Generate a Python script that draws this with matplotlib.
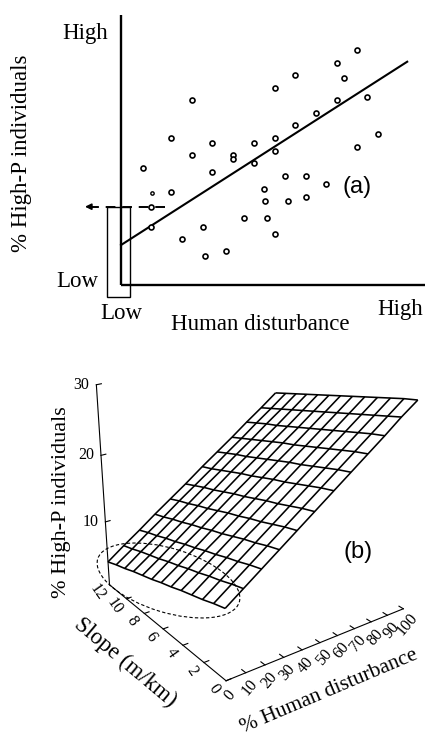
import numpy as np
import matplotlib
matplotlib.use("Agg")
import matplotlib.pyplot as plt
from matplotlib.patches import Rectangle, Ellipse
from mpl_toolkits.mplot3d import Axes3D  # noqa: F401

W, H, DPI = 427, 737, 100
SERIF = "Liberation Serif"
SANS = "Liberation Sans"
plt.rcParams["font.family"] = SERIF

# ---------------- panel (a) data ----------------
disturbance_a = [7.2, 10.4, 16.8, 10.0, 10.0, 16.8, 23.8, 23.7, 20.3, 27.2, 28.0,
                 30.4, 30.4, 34.9, 37.4, 37.4, 40.9, 44.3, 44.3, 47.7, 47.9, 48.6,
                 51.2, 51.3, 51.3, 51.4, 54.8, 55.7, 58.0, 58.0, 61.6, 61.6, 64.9,
                 68.4, 72.0, 72.0, 74.2, 78.7, 78.7, 82.1, 85.6]
highp_a = [43.2, 34.0, 34.3, 29.0, 21.6, 54.3, 68.5, 48.0, 16.9, 21.6, 10.6,
           52.7, 41.7, 12.7, 48.0, 46.7, 24.7, 52.7, 45.1, 35.4, 31.0, 24.7,
           72.9, 54.3, 49.7, 18.8, 40.4, 31.0, 77.7, 59.1, 40.4, 32.5, 63.6,
           37.3, 82.1, 68.5, 76.6, 86.9, 51.0, 69.5, 55.8]
small_points = [1]
fit_x = [0.0, 95.4]
fit_y = [14.8, 82.7]
low_box_x = [-4.7, 3.0]
low_box_y = [-4.4, 29.0]
arrow_x = [14.7, -12.0]
arrow_y = 29.0

# ---------------- panel (b) data ----------------
disturbance_levels = [0, 9, 18, 27, 36, 45, 55, 64, 73, 82, 91, 100]
slope_levels = [0, 1, 2, 3, 4, 5, 6, 7, 8, 9, 10, 11, 12]
highp_surface = [
    [10.2, 9.7, 9.1, 8.6, 8.1, 7.5, 7.0, 6.4, 5.9, 5.4, 4.8, 4.3, 3.7],
    [12.0, 11.5, 10.9, 10.4, 9.8, 9.3, 8.7, 8.2, 7.6, 7.1, 6.6, 6.0, 5.5],
    [13.8, 13.3, 12.7, 12.2, 11.6, 11.1, 10.5, 10.0, 9.4, 8.9, 8.3, 7.8, 7.2],
    [15.6, 15.1, 14.5, 14.0, 13.4, 12.8, 12.3, 11.7, 11.2, 10.6, 10.1, 9.5, 9.0],
    [17.4, 16.9, 16.3, 15.7, 15.2, 14.6, 14.1, 13.5, 12.9, 12.4, 11.8, 11.3, 10.7],
    [19.2, 18.7, 18.1, 17.5, 17.0, 16.4, 15.8, 15.3, 14.7, 14.1, 13.6, 13.0, 12.4],
    [21.2, 20.7, 20.1, 19.5, 18.9, 18.4, 17.8, 17.2, 16.7, 16.1, 15.5, 14.9, 14.4],
    [23.0, 22.5, 21.9, 21.3, 20.7, 20.2, 19.6, 19.0, 18.4, 17.8, 17.3, 16.7, 16.1],
    [24.8, 24.3, 23.7, 23.1, 22.5, 21.9, 21.3, 20.8, 20.2, 19.6, 19.0, 18.4, 17.8],
    [26.6, 26.1, 25.5, 24.9, 24.3, 23.7, 23.1, 22.5, 21.9, 21.3, 20.8, 20.2, 19.6],
    [28.5, 27.9, 27.3, 26.7, 26.1, 25.5, 24.9, 24.3, 23.7, 23.1, 22.5, 21.9, 21.3],
    [30.2, 29.7, 29.1, 28.5, 27.9, 27.3, 26.7, 26.1, 25.5, 24.9, 24.3, 23.7, 23.1],
]
z_ticks = [10, 20, 30]
slope_ticks = [0, 2, 4, 6, 8, 10, 12]
dist_ticks = [0, 10, 20, 30, 40, 50, 60, 70, 80, 90, 100]

fig = plt.figure(figsize=(W / DPI, H / DPI), dpi=DPI)
fig.patch.set_facecolor("white")

# ======================= panel (a) =======================
axa = fig.add_axes([0, 1 - 340 / H, 1, 340 / H])
axa.set_xlim(-40.33, 102.0)
axa.set_ylim(-20.37, 105.56)
axa.set_axis_off()

axa.plot([0, 0], [0, 100], color="black", lw=1.7, solid_capstyle="butt")
axa.plot([0, 101.5], [0, 0], color="black", lw=1.7, solid_capstyle="butt")
axa.plot(fit_x, fit_y, color="black", lw=1.5)

big = [i for i in range(len(disturbance_a)) if i not in small_points]
axa.plot([disturbance_a[i] for i in big], [highp_a[i] for i in big], "o",
         ms=3.6, mfc="white", mec="black", mew=1.2, zorder=3)
axa.plot([disturbance_a[i] for i in small_points], [highp_a[i] for i in small_points],
         "o", ms=2.4, mfc="white", mec="black", mew=1.0, zorder=3)

axa.add_patch(Rectangle((low_box_x[0], low_box_y[0]), low_box_x[1] - low_box_x[0],
                        low_box_y[1] - low_box_y[0], fill=False, ec="black", lw=1.0))
axa.plot(arrow_x, [arrow_y, arrow_y], color="black", lw=1.4, dashes=(5, 3.5))
axa.annotate("", xy=(arrow_x[1], arrow_y), xytext=(arrow_x[1] + 2.5, arrow_y),
             arrowprops=dict(arrowstyle="-|>", color="black", lw=1.2,
                             mutation_scale=9, shrinkA=0, shrinkB=0))

fs_a = 16.5
axa.text(-4.3, 91.0, "High", ha="right", va="baseline", fontsize=fs_a)
axa.text(-7.7, -0.9, "Low", ha="right", va="baseline", fontsize=fs_a)
axa.text(0.0, -12.6, "Low", ha="center", va="baseline", fontsize=fs_a)
axa.text(100.8, -11.1, "High", ha="right", va="baseline", fontsize=fs_a)
axa.text(46.5, -16.7, "Human disturbance", ha="center", va="baseline", fontsize=fs_a)
axa.text(-33.0, 48.9, "% High-P individuals", ha="center", va="center",
         rotation=90, fontsize=fs_a)
axa.text(78.7, 36.3, "(a)", ha="center", va="center", fontsize=17, family=SANS)

# ======================= panel (b) =======================
ax3 = fig.add_axes([0.05, 0.02, 0.9, 0.45], projection="3d", proj_type="persp",
                   focal_length=0.513)
ax3.set_facecolor((1, 1, 1, 0))
ax3.patch.set_alpha(0)
ax3.set_axis_off()
ax3.view_init(elev=24.4, azim=-125.77)
ax3.set_box_aspect((1.0, 1.0026, 1.016))
ax3.set_xlim(0, 100)
ax3.set_ylim(0, 12)
ax3.set_zlim(0, 30)

S, D = np.meshgrid(np.array(slope_levels, float), np.array(disturbance_levels, float))
Z = np.array(highp_surface)
ax3.plot_wireframe(D, S, Z, rstride=1, cstride=1, color="black", linewidth=1.15)

ax_col = "black"
ax3.plot([0, 0], [12, 12], [0, 30], color=ax_col, lw=0.8)
ax3.plot([0, 0], [12, 0], [0, 0], color=ax_col, lw=0.8)
ax3.plot([0, 100], [0, 0], [0, 0], color=ax_col, lw=0.8)
for z in z_ticks:
    ax3.plot([0, 2.5], [12, 12], [z, z], color=ax_col, lw=0.8)
for s in slope_ticks[:-1]:
    ax3.plot([0, 2.5], [s, s], [0, 0], color=ax_col, lw=0.8)
for d in dist_ticks[1:]:
    ax3.plot([d, d], [0, 0.35], [0, 0], color=ax_col, lw=0.8)


def proj_disp(ax, x, y, z):
    M = ax.get_proj()
    v = M @ np.array([x, y, z, 1.0])
    return np.array(ax.transData.transform((v[0] / v[3], v[1] / v[3])))


# place the 3D axes so that its axis corners land where they are in the reference
fig.canvas.draw()
anchors3d = [(0, 12, 0), (0, 6, 0), (0, 0, 0), (50, 0, 0), (100, 0, 0), (0, 12, 30)]
targets_img = [(109, 585), (164.3, 629.3), (226.7, 680), (318.3, 643),
               (404.3, 608.3), (95.7, 385)]
P = np.array([proj_disp(ax3, *a) for a in anchors3d])
T = np.array([(x, H - y) for x, y in targets_img], float)
Pm, Tm = P.mean(0), T.mean(0)
k = ((P - Pm) * (T - Tm)).sum() / ((P - Pm) ** 2).sum()
t = Tm - k * Pm
bb = ax3.get_position()
c0 = np.array([(bb.x0 + bb.x1) / 2 * W, (bb.y0 + bb.y1) / 2 * H])
w1, h1 = k * bb.width * W, k * bb.height * H
c1 = k * c0 + t
ax3.set_position([(c1[0] - w1 / 2) / W, (c1[1] - h1 / 2) / H, w1 / W, h1 / H])
fig.canvas.draw()


def img(x, y, z):
    dx, dy = proj_disp(ax3, x, y, z)
    return dx, H - dy


ov = fig.add_axes([0, 0, 1, 1])
ov.set_xlim(0, W)
ov.set_ylim(H, 0)
ov.set_axis_off()
ov.patch.set_alpha(0)

fs_t = 11.5
for z in z_ticks:
    px, py = img(0, 12, z)
    ov.text(px - 7, py, str(z), ha="right", va="center", fontsize=fs_t)
px, py = img(0, 12, 14)
ov.text(px - 42, py + 6, "% High-P individuals", ha="center", va="center",
        rotation=90, fontsize=16)

for s in slope_ticks:
    px, py = img(0, s, 0)
    ov.text(px - 12, py + 8, str(s), ha="center", va="center", rotation=-55,
            fontsize=fs_t)
px, py = img(0, 6, 0)
ov.text(px - 38, py + 34, "Slope (m/km)", ha="center", va="center", rotation=-40,
        fontsize=16.5)

for d in dist_ticks:
    px, py = img(d, 0, 0)
    ov.text(px + 4, py + 15, str(d), ha="center", va="center", rotation=50,
            fontsize=fs_t)
px, py = img(50, 0, 0)
ov.text(px + 9, py + 49, "% Human disturbance", ha="center", va="center",
        rotation=23, fontsize=15.5)

ov.text(358, 552, "(b)", ha="center", va="center", fontsize=17, family=SANS)
ov.add_patch(Ellipse((168.5, 580.5), 148, 64, angle=17, fill=False, ec="black",
                     lw=0.8, linestyle=(0, (3, 2))))

fig.savefig("out.png", dpi=DPI, facecolor="white")
